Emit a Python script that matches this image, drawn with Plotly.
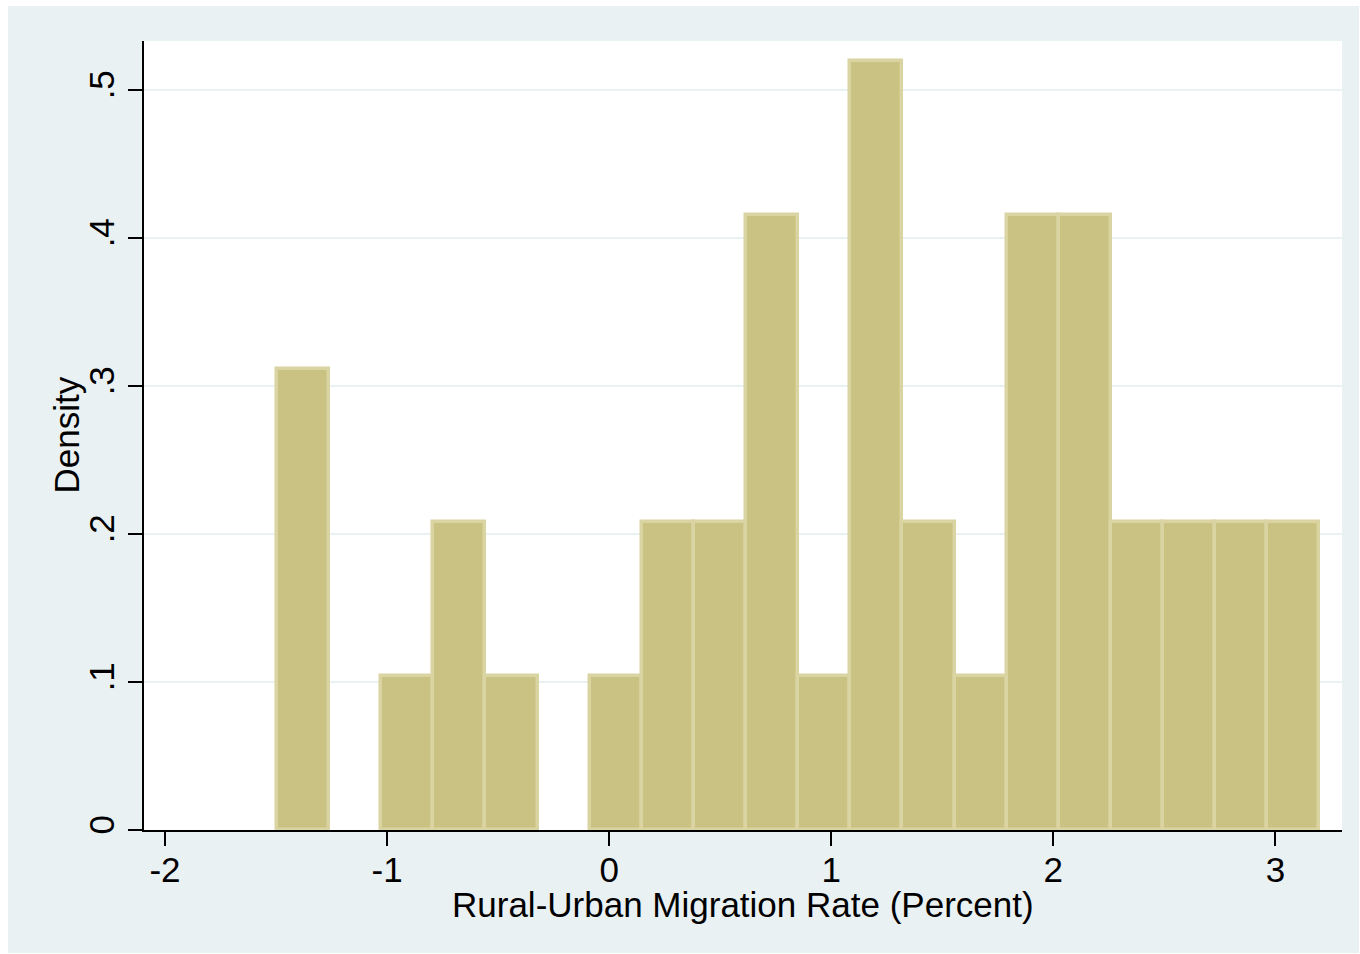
import plotly.graph_objects as go

# Histogram of rural-urban migration rates (20 equal-width bins, density scale)
bin_start = -1.496
bin_width = 0.2347
counts = [3, 0, 1, 2, 1, 0, 1, 2, 2, 4, 1, 5, 2, 1, 4, 4, 2, 2, 2, 2]

x_ticks = [-2, -1, 0, 1, 2, 3]
y_ticks = [0, 0.1, 0.2, 0.3, 0.4, 0.5]
y_tick_text = ["0", ".1", ".2", ".3", ".4", ".5"]

x_title = "Rural-Urban Migration Rate (Percent)"
y_title = "Density"

n_obs = sum(counts)
centers = [bin_start + bin_width * (i + 0.5) for i in range(len(counts))]
density = [c / (n_obs * bin_width) for c in counts]
# empty bins get no outline
line_widths = [3.5 if c > 0 else 0 for c in counts]

FONT = "Liberation Sans, Arial, sans-serif"
FS = 35
OUTER_BG = "#EAF1F3"
GRID = "#EAF1F3"

W, H = 1360, 954
ml, mr, mt, mb = 144, 18, 41, 124
pw, ph = W - ml - mr, H - mt - mb


def px_x(p):
    return (p - ml) / pw


def px_y(p):
    return (H - mb - p) / ph


fig = go.Figure(
    go.Bar(
        x=centers,
        y=density,
        width=bin_width,
        marker=dict(color="#C9C283", line=dict(color="#D9D4A2", width=line_widths)),
        hoverinfo="x+y",
    )
)

fig.update_layout(
    width=W,
    height=H,
    margin=dict(l=ml, r=mr, t=mt, b=mb, pad=0),
    paper_bgcolor="white",
    plot_bgcolor="white",
    showlegend=False,
    font=dict(family=FONT, size=FS, color="black"),
    bargap=0,
    shapes=[
        # graph region background
        dict(
            type="rect", xref="paper", yref="paper", layer="below",
            x0=px_x(8), x1=px_x(1359), y0=px_y(953), y1=px_y(6),
            fillcolor=OUTER_BG, line=dict(width=0),
        ),
        # plot region background
        dict(
            type="rect", xref="paper", yref="paper", layer="below",
            x0=0, x1=1, y0=0, y1=1,
            fillcolor="white", line=dict(width=0),
        ),
    ],
    annotations=[
        dict(
            text=x_title, xref="paper", yref="paper",
            x=0.5, y=px_y(904), xanchor="center", yanchor="middle",
            showarrow=False, font=dict(size=FS),
        ),
        dict(
            text=y_title, xref="paper", yref="paper",
            x=px_x(66), y=0.5, xanchor="center", yanchor="middle",
            textangle=-90, showarrow=False, font=dict(size=FS),
        ),
    ],
)

fig.update_xaxes(
    range=[-2.0945, 3.2997],
    tickmode="array",
    tickvals=x_ticks,
    ticktext=[str(v) for v in x_ticks],
    ticks="outside",
    ticklen=14,
    tickwidth=1.5,
    tickcolor="black",
    ticklabelstandoff=-6,
    showline=True,
    linecolor="black",
    linewidth=1.5,
    showgrid=False,
    zeroline=False,
    tickfont=dict(size=FS),
)

fig.update_yaxes(
    range=[0, 0.5331],
    tickmode="array",
    tickvals=y_ticks,
    ticktext=y_tick_text,
    tickangle=-90,
    ticks="outside",
    ticklen=14,
    tickwidth=1.5,
    tickcolor="black",
    showline=True,
    linecolor="black",
    linewidth=1.5,
    showgrid=True,
    gridcolor=GRID,
    gridwidth=2,
    zeroline=False,
    tickfont=dict(size=FS),
)

fig.write_html("out.html")
